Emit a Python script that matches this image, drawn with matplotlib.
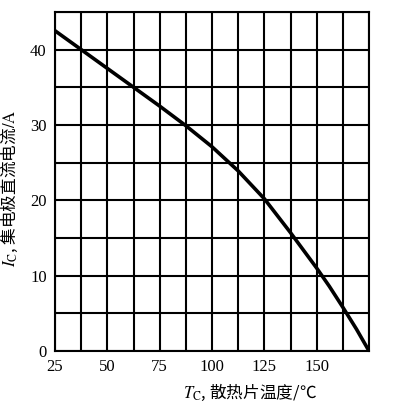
import numpy as np
import matplotlib
matplotlib.use("Agg")
import matplotlib.pyplot as plt

plt.rcParams['font.family'] = ['Liberation Serif', 'Noto Sans CJK SC']
plt.rcParams['mathtext.fontset'] = 'stix'

# curve
temp = [25, 37.5, 50, 62.5, 75, 87.5, 100, 112.5, 125, 137.5, 150, 156, 162.5, 169, 175]
ic = [42.5, 40, 37.5, 35, 32.5, 29.9, 27.1, 23.9, 20.2, 15.7, 11.0, 8.6, 5.8, 2.9, 0]

x_grid = np.arange(25, 175.1, 12.5)
y_grid = np.arange(0, 45.1, 5)
x_labels = ['25', '', '50', '', '75', '', '100', '', '125', '', '150', '', '']
y_labels = ['0', '', '10', '', '20', '', '30', '', '40', '']

fig = plt.figure(figsize=(3.93, 4.11), dpi=100)
ax = fig.add_axes([0.140, 0.146, 0.799, 0.825])

ax.plot(temp, ic, color='black', lw=2.6, solid_capstyle='round', solid_joinstyle='round')

ax.set_xlim(25, 175)
ax.set_ylim(0, 45)
ax.set_xticks(x_grid)
ax.set_xticklabels(x_labels)
ax.set_yticks(y_grid)
ax.set_yticklabels(y_labels)
ax.tick_params(length=0, labelsize=12, pad=6)
ax.grid(True, color='black', lw=1.5)
for s in ax.spines.values():
    s.set_linewidth(1.5)

# mathtext can't fall back between fonts, so the CJK font is the base font here
ax.set_xlabel(r'$T_\mathrm{C}$, 散热片温度/℃', fontsize=12, family='Noto Sans CJK SC')
ax.set_ylabel(r'$I_\mathrm{C}$, 集电极直流电流$/\mathrm{A}$', fontsize=12, family='Noto Sans CJK SC')
ax.xaxis.set_label_coords(0.62, -0.09)
ax.yaxis.set_label_coords(-0.11, 0.48)

fig.savefig('out.png', dpi=100, facecolor='white')
